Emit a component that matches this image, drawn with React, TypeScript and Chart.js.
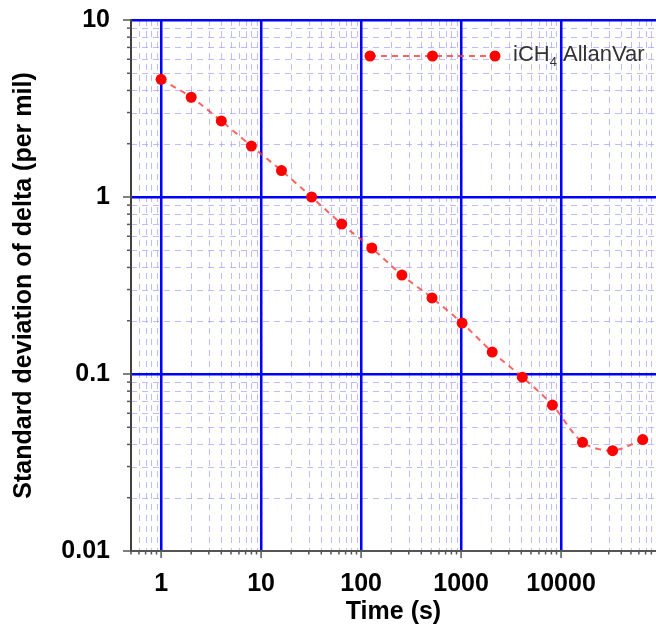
import React, { useEffect, useRef } from 'react';
import { Chart, registerables } from 'chart.js';

Chart.register(...registerables);

// ---- data ----
const timeSeconds = [1, 2, 4, 8, 16, 32, 64, 128, 256, 512, 1024, 2048, 4096, 8192, 16384, 32768, 65536];
const stdDevDelta = [4.62, 3.66, 2.69, 1.94, 1.41, 1.0, 0.703, 0.515, 0.362, 0.269, 0.194, 0.133, 0.096, 0.0668, 0.0411, 0.0369, 0.0426];

const seriesNameMain = 'iCH';
const seriesNameSub = '4';
const seriesNameRest = ' AllanVar';

const xTickValues = [1, 10, 100, 1000, 10000];
const xTickLabels = ['1', '10', '100', '1000', '10000'];
const yTickValues = [0.01, 0.1, 1, 10];
const yTickLabels = ['0.01', '0.1', '1', '10'];

const xTitle = 'Time (s)';
const yTitle = 'Standard deviation of delta (per mil)';

const xMin = 0.5;
const xMax = 89000;
const yMin = 0.01;
const yMax = 10;

// ---- helpers ----
const FONT = '"Liberation Sans", Arial, sans-serif';
const MAJOR_COLOR = '#0000ff';
const MINOR_COLOR = 'rgba(160,160,255,0.7)';
const AXIS_COLOR = '#555555';
const LINE_COLOR = 'rgba(255,60,60,0.8)';
const POINT_COLOR = '#ff0000';

function logTicks(min: number, max: number): number[] {
  const out: number[] = [];
  const e0 = Math.floor(Math.log10(min));
  const e1 = Math.ceil(Math.log10(max));
  for (let e = e0; e <= e1; e++) {
    for (let m = 1; m <= 9; m++) {
      const v = parseFloat((m * Math.pow(10, e)).toPrecision(8));
      if (v >= min * (1 - 1e-9) && v <= max * (1 + 1e-9)) out.push(v);
    }
  }
  return out;
}

function isIn(v: number, list: number[]): boolean {
  return list.some((t) => Math.abs(t - v) / t < 1e-6);
}

function labelFor(v: number, values: number[], labels: string[]): string {
  const i = values.findIndex((t) => Math.abs(t - v) / t < 1e-6);
  return i >= 0 ? labels[i] : '';
}

const decorPlugin = {
  id: 'decor',
  beforeDraw(chart: any) {
    const { ctx, chartArea: ca, scales } = chart;
    const xs = scales.x;
    const ys = scales.y;
    ctx.save();
    ctx.beginPath();
    ctx.rect(ca.left, ca.top, ca.right - ca.left, ca.bottom - ca.top);
    ctx.clip();
    ctx.strokeStyle = MINOR_COLOR;
    ctx.lineWidth = 1;
    ctx.setLineDash([6, 5]);
    for (const v of logTicks(xMin, xMax)) {
      if (isIn(v, xTickValues)) continue;
      const px = Math.round(xs.getPixelForValue(v)) + 0.5;
      ctx.beginPath();
      ctx.moveTo(px, ca.top);
      ctx.lineTo(px, ca.bottom);
      ctx.stroke();
    }
    for (const v of logTicks(yMin, yMax)) {
      if (isIn(v, yTickValues)) continue;
      const py = Math.round(ys.getPixelForValue(v)) + 0.5;
      ctx.beginPath();
      ctx.moveTo(ca.left, py);
      ctx.lineTo(ca.right, py);
      ctx.stroke();
    }
    ctx.restore();
  },
  afterDraw(chart: any) {
    const { ctx, chartArea: ca, scales } = chart;
    const xs = scales.x;
    const ys = scales.y;
    ctx.save();
    ctx.strokeStyle = AXIS_COLOR;
    ctx.lineWidth = 1.5;
    for (const v of logTicks(xMin, xMax)) {
      const len = isIn(v, xTickValues) ? 7 : 3.5;
      const px = xs.getPixelForValue(v);
      ctx.beginPath();
      ctx.moveTo(px, ca.bottom);
      ctx.lineTo(px, ca.bottom + len);
      ctx.stroke();
    }
    for (const v of logTicks(yMin, yMax)) {
      const len = isIn(v, yTickValues) ? 8 : 4;
      const py = ys.getPixelForValue(v);
      ctx.beginPath();
      ctx.moveTo(ca.left - len, py);
      ctx.lineTo(ca.left, py);
      ctx.stroke();
    }
    ctx.restore();

    // legend (inside plot area, top right)
    const y = ca.top + 36;
    const x0 = ca.left + 239;
    const x1 = ca.left + 364;
    ctx.save();
    ctx.strokeStyle = LINE_COLOR;
    ctx.lineWidth = 2;
    ctx.setLineDash([6, 5]);
    ctx.beginPath();
    ctx.moveTo(x0, y);
    ctx.lineTo(x1, y);
    ctx.stroke();
    ctx.setLineDash([]);
    ctx.fillStyle = POINT_COLOR;
    for (const px of [x0, (x0 + x1) / 2, x1]) {
      ctx.beginPath();
      ctx.arc(px, y, 5.5, 0, Math.PI * 2);
      ctx.fill();
    }
    ctx.fillStyle = '#333333';
    ctx.textBaseline = 'middle';
    ctx.textAlign = 'left';
    let tx = x1 + 18;
    ctx.font = `22px ${FONT}`;
    ctx.fillText(seriesNameMain, tx, y - 1);
    tx += ctx.measureText(seriesNameMain).width;
    ctx.font = `13px ${FONT}`;
    ctx.fillText(seriesNameSub, tx, y + 6);
    tx += ctx.measureText(seriesNameSub).width;
    ctx.font = `22px ${FONT}`;
    ctx.fillText(seriesNameRest, tx, y - 1);
    ctx.restore();
  },
};

export default function App() {
  const ref = useRef<HTMLCanvasElement | null>(null);

  useEffect(() => {
    if (!ref.current) return;
    const tickFont = { family: FONT, size: 25, weight: 'bold' as const };
    const chart = new Chart(ref.current, {
      type: 'line',
      data: {
        datasets: [
          {
            label: seriesNameMain + seriesNameSub + seriesNameRest,
            data: timeSeconds.map((t, i) => ({ x: t, y: stdDevDelta[i] })),
            borderColor: LINE_COLOR,
            borderWidth: 2,
            borderDash: [6, 5],
            tension: 0.3,
            pointRadius: 5.5,
            pointBackgroundColor: POINT_COLOR,
            pointBorderColor: POINT_COLOR,
            pointBorderWidth: 0,
            fill: false,
            clip: 6,
          },
        ],
      },
      options: {
        animation: false,
        responsive: false,
        devicePixelRatio: 1,
        layout: { autoPadding: false, padding: { top: 20, left: 0, right: 0, bottom: 0 } },
        plugins: {
          legend: { display: false },
          tooltip: { enabled: false },
        },
        scales: {
          x: {
            type: 'logarithmic',
            min: xMin,
            max: xMax,
            afterBuildTicks: (s: any) => {
              s.ticks = logTicks(xMin, xMax).map((v) => ({ value: v }));
            },
            afterFit: (s: any) => {
              s.height = 77;
              s.paddingLeft = 0;
              s.paddingRight = 0;
            },
            grid: {
              drawTicks: false,
              color: (c: any) => (c.tick && isIn(c.tick.value, xTickValues) ? MAJOR_COLOR : 'rgba(0,0,0,0)'),
              lineWidth: (c: any) => (c.tick && isIn(c.tick.value, xTickValues) ? 2.5 : 0),
            },
            border: { display: true, color: AXIS_COLOR, width: 2 },
            ticks: {
              autoSkip: false,
              maxRotation: 0,
              minRotation: 0,
              padding: 18,
              color: '#000000',
              font: tickFont,
              callback: (v: any) => labelFor(Number(v), xTickValues, xTickLabels),
            },
            title: {
              display: true,
              text: xTitle,
              color: '#000000',
              font: tickFont,
              padding: { top: 0, bottom: 1 },
            },
          },
          y: {
            type: 'logarithmic',
            min: yMin,
            max: yMax,
            afterBuildTicks: (s: any) => {
              s.ticks = logTicks(yMin, yMax).map((v) => ({ value: v }));
            },
            afterFit: (s: any) => {
              s.width = 131;
              s.paddingTop = 0;
              s.paddingBottom = 0;
            },
            grid: {
              drawTicks: false,
              color: (c: any) =>
                c.tick && isIn(c.tick.value, yTickValues) && !isIn(c.tick.value, [yMin]) ? MAJOR_COLOR : 'rgba(0,0,0,0)',
              lineWidth: (c: any) =>
                c.tick && isIn(c.tick.value, yTickValues) && !isIn(c.tick.value, [yMin]) ? 2.5 : 0,
            },
            border: { display: true, color: '#404040', width: 2 },
            ticks: {
              autoSkip: false,
              padding: 21,
              color: '#000000',
              font: tickFont,
              callback: (v: any) => labelFor(Number(v), yTickValues, yTickLabels),
            },
            title: {
              display: true,
              text: yTitle,
              color: '#000000',
              font: tickFont,
              padding: { top: 9, bottom: 18 },
            },
          },
        },
      },
      plugins: [decorPlugin],
    } as any);
    return () => chart.destroy();
  }, []);

  return (
    <div style={{ position: 'fixed', left: 0, top: 0, width: 656, height: 628, background: '#ffffff' }}>
      <canvas ref={ref} width={656} height={628} style={{ display: 'block', width: 656, height: 628 }} />
    </div>
  );
}
